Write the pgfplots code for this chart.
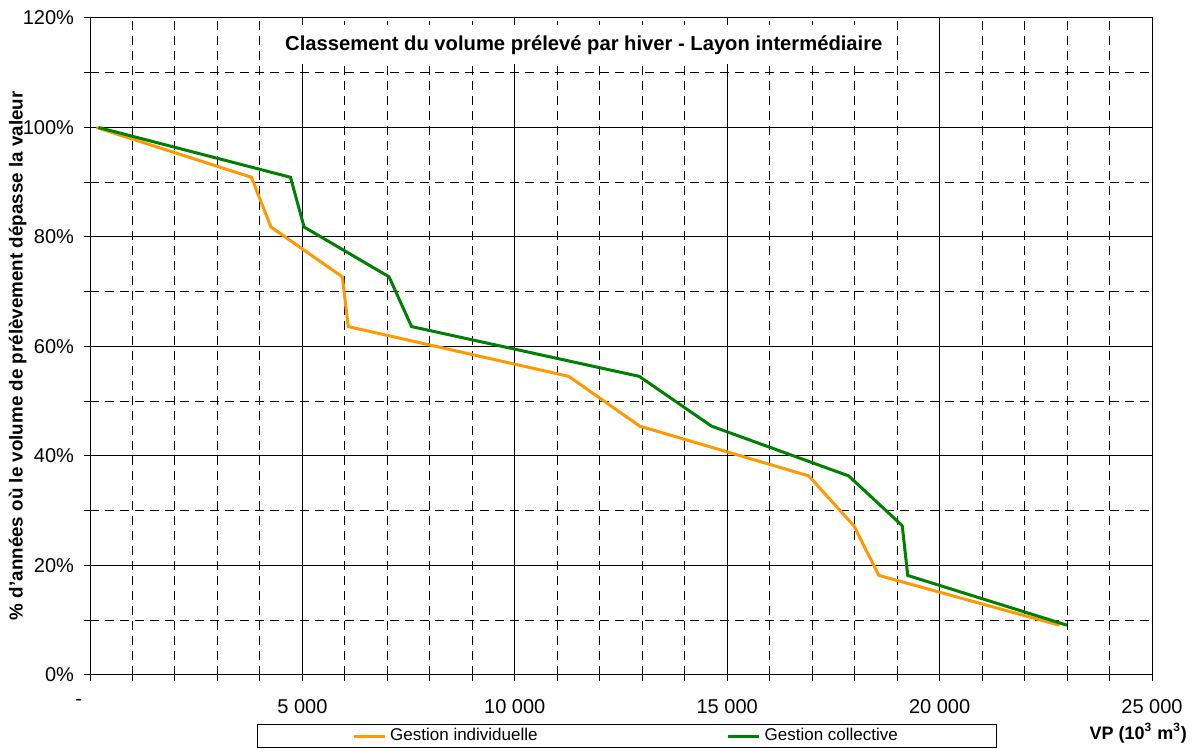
\documentclass[border=0pt]{standalone}
\usepackage{pgfplots}
\pgfplotsset{compat=1.18}
\usepackage{fontspec}
\setmainfont{Liberation Sans}
\definecolor{indiv}{RGB}{255,153,0}
\definecolor{coll}{RGB}{0,128,0}
\begin{document}
\begin{tikzpicture}[font=\fontsize{8.5}{10}\selectfont]
\begin{axis}[
  scale only axis,
  width=531pt, height=328.5pt,
  xmin=0, xmax=25000, ymin=0, ymax=120,
  scaled x ticks=false,
  xtick={0,5000,10000,15000,20000,25000},
  xticklabels={\makebox[0pt][r]{-\hspace{4pt}},5~000,10~000,15~000,20~000,25~000},
  ytick={0,20,40,60,80,100,120},
  yticklabels={0\%,20\%,40\%,60\%,80\%,100\%,120\%},
  minor xtick={1000,2000,3000,4000,6000,7000,8000,9000,11000,12000,13000,14000,16000,17000,18000,19000,21000,22000,23000,24000},
  minor ytick={10,30,50,70,90,110},
  /pgf/number format/assume math mode=true,
  grid=both,
  major grid style={black, line width=0.5pt},
  minor grid style={black, line width=0.5pt, dash pattern=on 4.5pt off 3pt},
  axis line style={black, line width=0.5pt},
  tick style={black, line width=0.5pt},
  major tick length=3pt, minor tick length=3pt,
  tick align=outside,
  xtick pos=bottom, ytick pos=left,
  ticklabel style={font=\fontsize{10}{12}\selectfont},
  xticklabel style={yshift=-5.5pt},
  yticklabel style={xshift=-1.5pt},
  ylabel={\bfseries \% d'années où le volume de prélèvement dépasse la valeur},
  every axis y label/.style={at={(axis description cs:-0.068,0.486)}, rotate=90, anchor=center, font=\fontsize{9.4}{11}\selectfont},
  legend columns=2,
  legend style={at={(axis description cs:0.157,-0.0746)}, anchor=north west, draw=black, line width=0.5pt,
    inner xsep=47.5pt, inner ysep=0pt,
    /tikz/every even column/.append style={column sep=92.5pt}},
  legend image code/.code={\draw[#1, line width=1.5pt] (0pt,0pt) -- (15.5pt,0pt);},
]
\addplot[indiv, line width=1.5pt] coordinates {
(150,100) (3800,90.909) (4260,81.818) (5940,72.727) (6080,63.636) (11270,54.545) (12940,45.455) (16920,36.364) (17980,27.273) (18570,18.182) (22820,9.091)
};
\addlegendentry{Gestion individuelle}
\addplot[coll, line width=1.5pt] coordinates {
(200,100) (4720,90.909) (5040,81.818) (7040,72.727) (7570,63.636) (12930,54.545) (14630,45.455) (17860,36.364) (19120,27.273) (19250,18.182) (23000,9.091)
};
\addlegendentry{Gestion collective\hspace{8pt}}
\node[fill=white, inner xsep=3pt, inner ysep=5pt, font=\fontsize{10.1}{12}\selectfont\bfseries] at (axis description cs:0.465,0.959) {Classement du volume prélevé par hiver - Layon intermédiaire};
\end{axis}
\node[anchor=east, font=\fontsize{9}{11}\selectfont\bfseries] at ([shift={(21pt,-29pt)}]current axis.south east) {VP (10\textsuperscript{3} m\textsuperscript{3})};
\pgfresetboundingbox
\useasboundingbox ([shift={(-45pt,-37pt)}]current axis.south west) rectangle ([shift={(21pt,9pt)}]current axis.north east);
\end{tikzpicture}
\end{document}
